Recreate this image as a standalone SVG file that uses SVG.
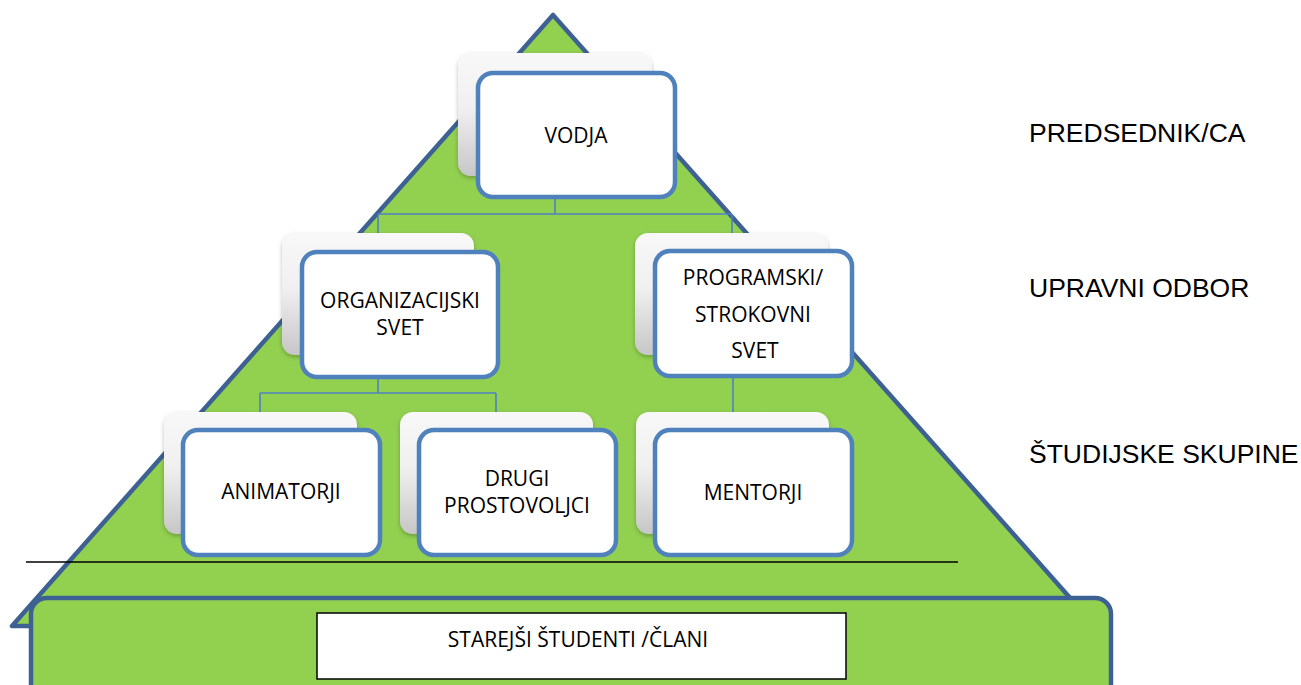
<svg xmlns="http://www.w3.org/2000/svg" width="1301" height="685" viewBox="0 0 1301 685">
  <style>
    .tri { fill: #92D050; stroke: #3D6192; stroke-width: 4.5; stroke-linejoin: round; }
    .base { fill: #92D050; stroke: #3D6192; stroke-width: 4.5; }
    .back { fill: url(#backGrad); filter: url(#soft); }
    .front { fill: #FFFFFF; stroke: #4F81BD; stroke-width: 4.5; }
    .conn { fill: none; stroke: #4F81BD; stroke-width: 1.6; }
    .lbl { font-family: "Open Sans", "Noto Sans", sans-serif; font-size: 21px; fill: #000; text-anchor: middle; }
    .side { font-family: "Liberation Sans", Arial, sans-serif; font-size: 26.5px; fill: #000; }
  </style>
  <defs>
    <linearGradient id="backGrad" x1="0" y1="0" x2="0" y2="1">
      <stop offset="0" stop-color="#F8F8F8"/>
      <stop offset="0.45" stop-color="#F0F0F0"/>
      <stop offset="1" stop-color="#C6C6C6"/>
    </linearGradient>
    <filter id="soft" x="-10%" y="-10%" width="120%" height="125%">
      <feDropShadow dx="0" dy="2" stdDeviation="2" flood-color="#000" flood-opacity="0.25"/>
    </filter>
  </defs>

  <!-- pyramid and its base band -->
  <path class="tri" d="M553,15 L12,626 L1095,626 Z"/>
  <rect class="base" x="31" y="598" width="1080" height="110" rx="16"/>
  <line x1="26" y1="562" x2="958" y2="562" stroke="#000" stroke-width="1.5"/>

  <!-- connectors -->
  <g id="connectors">
    <path class="conn" d="M555,197 V214 M378,214 H732 M378,214 V235 M732,214 V235"/>
    <path class="conn" d="M378,377 V393 M260,393 H496 M260,393 V414 M496,393 V414"/>
    <path class="conn" d="M733,376 V432"/>
  </g>

  <g id="node-vodja">
    <rect class="back" x="458" y="53" width="194" height="123" rx="13"/>
    <rect class="front" x="478" y="73" width="197" height="124" rx="15"/>
    <text class="lbl" x="576" y="143">VODJA</text>
  </g>

  <g id="node-organizacijski">
    <rect class="back" x="282" y="233" width="192" height="122" rx="13"/>
    <rect class="front" x="302" y="252" width="196" height="125" rx="15"/>
    <text class="lbl" x="400" y="308">ORGANIZACIJSKI</text>
    <text class="lbl" x="400" y="335">SVET</text>
  </g>

  <g id="node-programski">
    <rect class="back" x="635" y="233" width="193" height="122" rx="13"/>
    <rect class="front" x="655" y="251" width="197" height="125" rx="15"/>
    <text class="lbl" x="753" y="285">PROGRAMSKI/</text>
    <text class="lbl" x="753" y="322">STROKOVNI</text>
    <text class="lbl" x="755" y="358">SVET</text>
  </g>

  <g id="node-animatorji">
    <rect class="back" x="164" y="412" width="193" height="122" rx="13"/>
    <rect class="front" x="183" y="430" width="197" height="125" rx="15"/>
    <text class="lbl" x="281" y="499">ANIMATORJI</text>
  </g>

  <g id="node-drugi">
    <rect class="back" x="400" y="412" width="193" height="122" rx="13"/>
    <rect class="front" x="419" y="430" width="197" height="125" rx="15"/>
    <text class="lbl" x="517" y="486">DRUGI</text>
    <text class="lbl" x="517" y="513">PROSTOVOLJCI</text>
  </g>

  <g id="node-mentorji">
    <rect class="back" x="636" y="412" width="193" height="122" rx="13"/>
    <rect class="front" x="655" y="430" width="197" height="125" rx="15"/>
    <text class="lbl" x="753" y="500">MENTORJI</text>
  </g>

  <g id="node-clani">
    <rect x="317" y="613" width="529" height="66" fill="#FFFFFF" stroke="#000" stroke-width="1.5"/>
    <text class="lbl" x="578" y="647">STAREJŠI ŠTUDENTI /ČLANI</text>
  </g>

  <g id="levels">
    <text class="side" x="1029" y="142">PREDSEDNIK/CA</text>
    <text class="side" x="1029" y="297">UPRAVNI ODBOR</text>
    <text class="side" x="1029" y="463">ŠTUDIJSKE SKUPINE</text>
  </g>
</svg>
